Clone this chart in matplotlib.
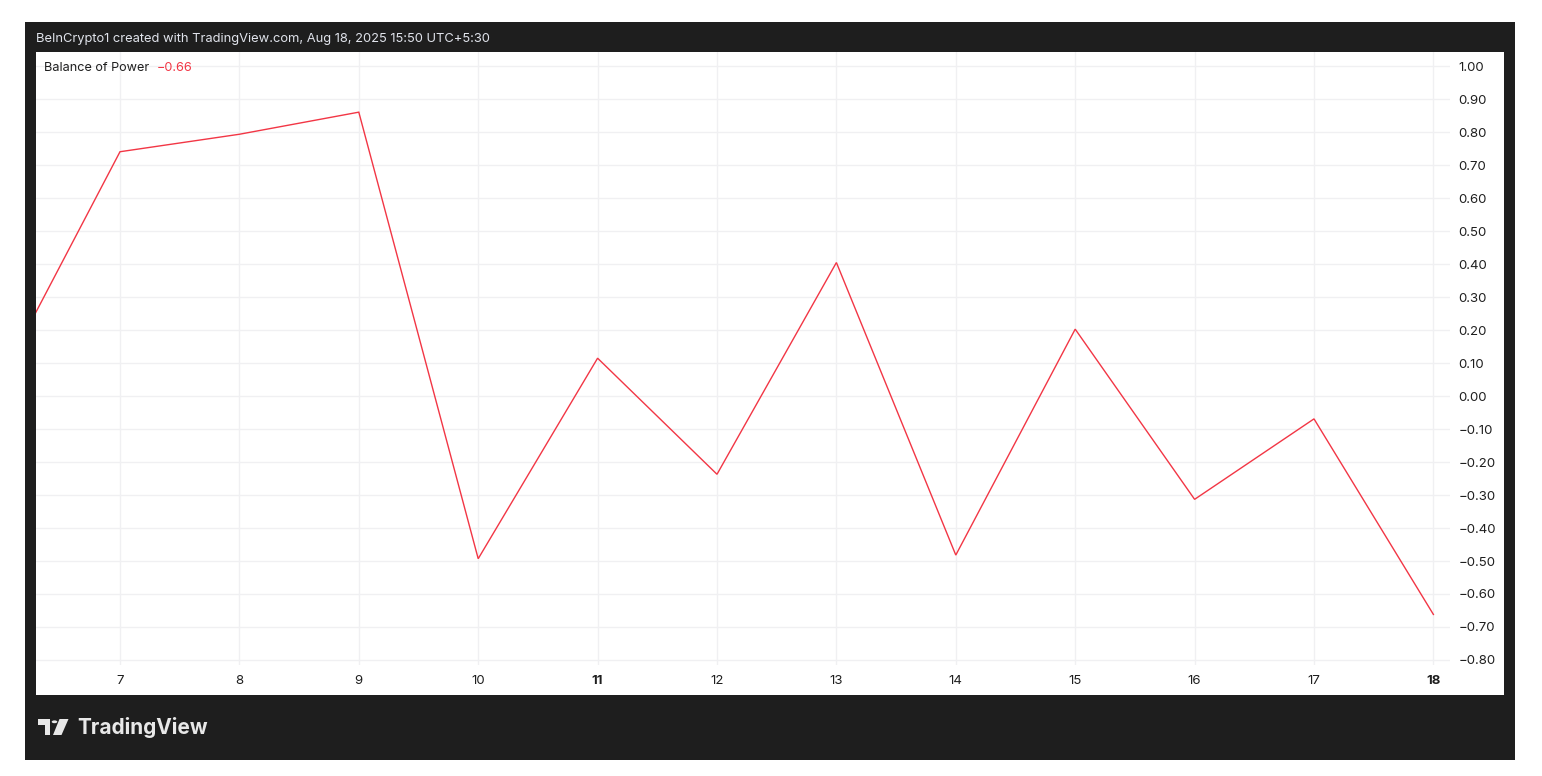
import matplotlib
matplotlib.use("Agg")
import matplotlib.pyplot as plt
from matplotlib.patches import Rectangle, Polygon, Circle

# ---- data ----
days = [6, 7, 8, 9, 10, 11, 12, 13, 14, 15, 16, 17, 18]
bop = [0.05, 0.741, 0.794, 0.861, -0.493, 0.115, -0.237, 0.405, -0.482, 0.203, -0.313, -0.069, -0.662]
x_ticks = [7, 8, 9, 10, 11, 12, 13, 14, 15, 16, 17, 18]
x_labels = ["7", "8", "9", "10", "11", "12", "13", "14", "15", "16", "17", "18"]
bold_labels = ["11", "18"]
y_ticks = [1.0, 0.9, 0.8, 0.7, 0.6, 0.5, 0.4, 0.3, 0.2, 0.1, 0.0, -0.1, -0.2, -0.3, -0.4, -0.5, -0.6, -0.7, -0.8]
y_labels = [("−" if v < 0 else "") + f"{abs(v):.2f}" for v in y_ticks]
title = "BeInCrypto1 created with TradingView.com, Aug 18, 2025 15:50 UTC+5:30"
legend_name = "Balance of Power"
legend_value = "−0.66"

W, H = 1542, 776
plt.rcParams['font.family'] = ['Inter', 'DejaVu Sans']
fig = plt.figure(figsize=(W / 100, H / 100), dpi=100)
fig.patch.set_facecolor("white")

def fx(px):
    return px / W

def fy(py):
    return 1 - py / H

DARK = "#1e1e1e"
RED = "#f23645"
TXT = "#1f1f1f"
GRID = "#f0f0f2"

# dark frame
fig.add_artist(Rectangle((fx(25), fy(760)), fx(1515) - fx(25), fy(22) - fy(760),
                         transform=fig.transFigure, facecolor=DARK, edgecolor="none", zorder=0))
# white panel
fig.add_artist(Rectangle((fx(36), fy(695)), fx(1504) - fx(36), fy(52) - fy(695),
                         transform=fig.transFigure, facecolor="white", edgecolor="none", zorder=0.5))

# axes (data area)
ax = fig.add_axes([fx(36), fy(665), fx(1450) - fx(36), fy(52) - fy(665)])
ax.set_facecolor("none")
ax.set_zorder(2)
ax.plot(days, bop, color=RED, lw=1.0, solid_joinstyle="miter", zorder=3)
ax.set_xlim(6.2965, 18.139)
ax.set_ylim(-0.8153, 1.0434)

ax.set_xticks(x_ticks)
ax.set_xticklabels([])
ax.set_yticks(y_ticks)
ax.yaxis.tick_right()
ax.set_yticklabels(y_labels)
ax.tick_params(axis="y", length=0, pad=6, labelsize=9.5, labelcolor=TXT)
ax.tick_params(axis="x", length=0)
ax.grid(True, color=GRID, lw=1.0, zorder=0)
for s in ax.spines.values():
    s.set_visible(False)

# x labels
for xv, lab in zip(x_ticks, x_labels):
    ax.annotate(lab, xy=(xv, 0), xycoords=("data", "axes fraction"),
                xytext=(0, -(681 - 665)), textcoords="offset pixels",
                ha="center", va="center", fontsize=9.5, color=TXT,
                fontweight="bold" if lab in bold_labels else "normal",
                annotation_clip=False)

# title
fig.text(fx(36), fy(39), title, ha="left", va="center", fontsize=9.3, color="#e0e3eb")

# legend
fig.text(fx(44), fy(68), legend_name, ha="left", va="center", fontsize=9.1, color=TXT, zorder=5)
fig.text(fx(157), fy(68), legend_value, ha="left", va="center", fontsize=9.1, color=RED, zorder=5)

# TradingView logo
LOGO = "#e8e8e8"
fig.add_artist(Polygon([(fx(38), fy(719)), (fx(50), fy(719)), (fx(50), fy(735)), (fx(44.5), fy(735)),
                        (fx(44.5), fy(724.5)), (fx(38), fy(724.5))], closed=True,
                       transform=fig.transFigure, facecolor=LOGO, edgecolor="none", zorder=3))
fig.add_artist(Circle((fx(54.5), fy(721.8)), 2.8 / W, transform=fig.transFigure,
                      facecolor=LOGO, edgecolor="none", zorder=3))
fig.add_artist(Polygon([(fx(59.5), fy(719)), (fx(68.5), fy(719)), (fx(61.5), fy(735)), (fx(53), fy(735))],
                       closed=True, transform=fig.transFigure, facecolor=LOGO, edgecolor="none", zorder=3))
fig.text(fx(77), fy(727.5), "TradingView", ha="left", va="center", fontsize=15,
         fontweight="bold", color=LOGO)

fig.savefig("out.png", dpi=100, facecolor="white")
